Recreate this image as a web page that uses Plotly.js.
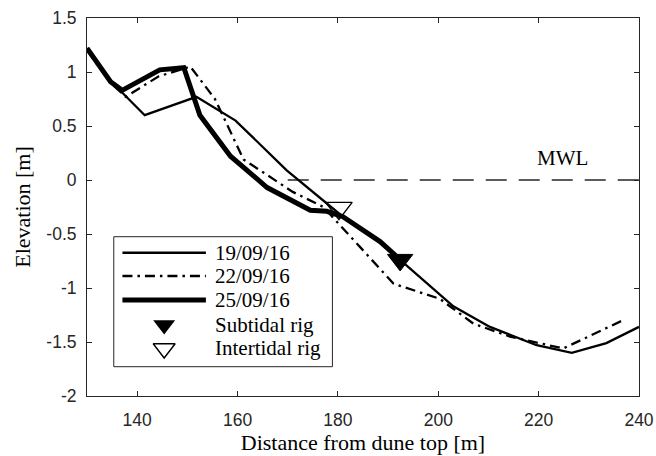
<!DOCTYPE html>
<html>
<head>
<meta charset="utf-8">
<script src="https://cdn.plot.ly/plotly-3.0.1.min.js"></script>
<style>
  html, body { margin: 0; padding: 0; background: #ffffff; }
  #chart { width: 656px; height: 456px; }
</style>
</head>
<body>
<div id="chart"></div>
<script>
// Beach profiles: distance from dune top [m] vs elevation [m]
const dist19 = [130, 134.7, 137, 141.5, 151.8, 159.6, 169.8, 177.1, 181, 188.4, 192.4, 203, 210.3, 219.6, 226.6, 233.5, 240];
const elev19 = [1.22, 0.9, 0.81, 0.6, 0.77, 0.55, 0.09, -0.19, -0.34, -0.57, -0.74, -1.17, -1.36, -1.53, -1.6, -1.51, -1.36];

const dist22 = [130, 134.7, 137.7, 144.3, 150.6, 155.5, 161.2, 171, 177.1, 191.1, 200.3, 207, 214.3, 224.9, 237.2];
const elev22 = [1.2, 0.9, 0.77, 0.96, 1.05, 0.75, 0.19, -0.11, -0.25, -0.96, -1.1, -1.33, -1.45, -1.56, -1.29];

const dist25 = [130, 134.7, 137, 144.5, 149.3, 152.5, 158.6, 165.9, 174.5, 177.8, 181, 188.4, 192];
const elev25 = [1.22, 0.91, 0.83, 1.02, 1.04, 0.6, 0.22, -0.07, -0.28, -0.29, -0.34, -0.57, -0.72];

// Instrument rigs
const subtidalRig = { x: [192.4], y: [-0.74] };
const intertidalRig = { x: [180.2], y: [-0.26] };

// Mean water level
const mwlDist = [170, 240];
const mwlElev = [0, 0];

const legendNames = ['19/09/16', '22/09/16', '25/09/16', 'Subtidal rig', 'Intertidal rig'];

const xTicks = [140, 160, 180, 200, 220, 240];
const yTicks = [-2, -1.5, -1, -0.5, 0, 0.5, 1, 1.5];
const yTickText = ['-2', '-1.5', '-1', '-0.5', '0', '0.5', '1', '1.5'];

const INK = '#000000';
const AXIS = '#262626';
const SERIF = 'Liberation Serif, Times New Roman, serif';
const SANS = 'Liberation Sans, Arial, Helvetica, sans-serif';
const DASHDOT = '10px,5px,2.5px,5px';
const THIN = 2.3;
const THICK = 5;

const traces = [
  { x: mwlDist, y: mwlElev, mode: 'lines', line: { color: '#262626', width: 1.3, dash: '21px,12px' }, hoverinfo: 'skip' },
  { x: dist19, y: elev19, mode: 'lines', line: { color: INK, width: THIN } },
  { x: dist22, y: elev22, mode: 'lines', line: { color: INK, width: THIN, dash: DASHDOT } },
  { x: dist25, y: elev25, mode: 'lines', line: { color: INK, width: THICK } },
  { x: subtidalRig.x, y: subtidalRig.y, mode: 'markers',
    marker: { symbol: 'triangle-down', size: 22, color: INK, line: { color: INK, width: 1 } } },
  { x: intertidalRig.x, y: intertidalRig.y, mode: 'markers',
    marker: { symbol: 'triangle-down-open', size: 23, color: INK, line: { color: INK, width: 1.4 } } }
];

// Legend drawn inside the axes on an overlay axis in unit coordinates
const legX0 = 0.0642, legX1 = 0.2154, legTextX = 0.2283;
const legRows = [0.379, 0.3175, 0.254, 0.188, 0.1257];
const legStyles = [
  { mode: 'lines', line: { color: INK, width: THIN } },
  { mode: 'lines', line: { color: INK, width: THIN, dash: DASHDOT } },
  { mode: 'lines', line: { color: INK, width: THICK } },
  { mode: 'markers', marker: { symbol: 'triangle-down', size: 19, color: INK } },
  { mode: 'markers', marker: { symbol: 'triangle-down-open', size: 19, color: INK, line: { color: INK, width: 1.4 } } }
];
legStyles.forEach(function (st, i) {
  const t = Object.assign({ xaxis: 'x2', yaxis: 'y2', hoverinfo: 'skip' }, st);
  if (st.mode === 'lines') { t.x = [legX0, legX1]; t.y = [legRows[i], legRows[i]]; }
  else { t.x = [(legX0 + legX1) / 2]; t.y = [legRows[i]]; }
  traces.push(t);
});

const annotations = legendNames.map(function (name, i) {
  return { xref: 'paper', yref: 'paper', x: legTextX, y: legRows[i], xanchor: 'left', yanchor: 'middle',
           text: name, showarrow: false, font: { family: SERIF, size: 21, color: INK } };
});
annotations.push({ xref: 'x', yref: 'y', x: 224.8, y: 0.2, text: 'MWL', showarrow: false,
                   xanchor: 'center', yanchor: 'middle', font: { family: SERIF, size: 21, color: INK } });

const layout = {
  width: 656, height: 456,
  margin: { l: 86.5, r: 16.7, t: 18, b: 60 },
  paper_bgcolor: '#ffffff', plot_bgcolor: '#ffffff',
  font: { family: SERIF, color: INK },
  showlegend: false,
  xaxis: {
    range: [130, 240], tickvals: xTicks, ticks: 'inside', ticklen: 5, tickcolor: AXIS,
    showline: true, linecolor: AXIS, linewidth: 1, mirror: 'ticks',
    showgrid: false, zeroline: false, ticklabelstandoff: 8,
    tickfont: { family: SANS, size: 17.5, color: AXIS },
    title: { text: 'Distance from dune top [m]', standoff: 2, font: { family: SERIF, size: 22, color: INK } }
  },
  yaxis: {
    range: [-2, 1.5], tickvals: yTicks, ticktext: yTickText, ticks: 'inside', ticklen: 5, tickcolor: AXIS,
    showline: true, linecolor: AXIS, linewidth: 1, mirror: 'ticks',
    showgrid: false, zeroline: false, ticklabelstandoff: 6,
    tickfont: { family: SANS, size: 17.5, color: AXIS },
    title: { text: 'Elevation [m]', standoff: 9, font: { family: SERIF, size: 22, color: INK } }
  },
  xaxis2: { overlaying: 'x', range: [0, 1], visible: false, fixedrange: true },
  yaxis2: { overlaying: 'y', range: [0, 1], visible: false, fixedrange: true },
  shapes: [
    { type: 'rect', xref: 'paper', yref: 'paper', x0: 0.0485, x1: 0.4446, y0: 0.0775, y1: 0.4214,
      line: { color: AXIS, width: 1 }, fillcolor: '#ffffff', layer: 'below' }
  ],
  annotations: annotations
};

Plotly.newPlot('chart', traces, layout, { displayModeBar: false, staticPlot: true });
</script>
</body>
</html>
